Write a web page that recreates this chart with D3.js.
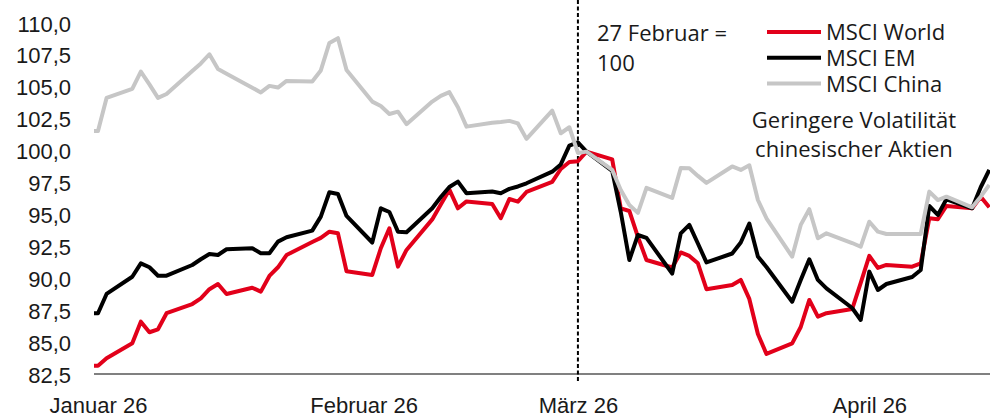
<!DOCTYPE html>
<html>
<head>
<meta charset="utf-8">
<script src="https://cdn.jsdelivr.net/npm/d3@7/dist/d3.min.js"></script>
<style>
    html, body { margin: 0; padding: 0; background: #fff; }
    svg { display: block; font-family: "Open Sans", sans-serif; }
    .axis text { font-size: 22px; fill: #1a1a1a; }
    .label { font-size: 22px; fill: #1a1a1a; }
</style>
</head>
<body>
<div id="chart"></div>
<script>

// DATA

// Trading days (first two points are the flat start before the first session)
var dates = [
    '2025-12-31', '2026-01-01',
    '2026-01-02', '2026-01-05', '2026-01-06', '2026-01-07', '2026-01-08', '2026-01-09',
    '2026-01-12', '2026-01-13', '2026-01-14', '2026-01-15', '2026-01-16',
    '2026-01-19', '2026-01-20', '2026-01-21', '2026-01-22', '2026-01-23',
    '2026-01-26', '2026-01-27', '2026-01-28', '2026-01-29', '2026-01-30',
    '2026-02-02', '2026-02-03', '2026-02-04', '2026-02-05', '2026-02-06',
    '2026-02-09', '2026-02-10', '2026-02-11', '2026-02-12', '2026-02-13',
    '2026-02-16', '2026-02-17', '2026-02-18', '2026-02-19', '2026-02-20',
    '2026-02-23', '2026-02-24', '2026-02-25', '2026-02-26', '2026-02-27',
    '2026-03-02', '2026-03-03', '2026-03-04', '2026-03-05', '2026-03-06',
    '2026-03-09', '2026-03-10', '2026-03-11', '2026-03-12', '2026-03-13',
    '2026-03-16', '2026-03-17', '2026-03-18', '2026-03-19', '2026-03-20',
    '2026-03-23', '2026-03-24', '2026-03-25', '2026-03-26', '2026-03-27',
    '2026-03-30', '2026-03-31', '2026-04-01', '2026-04-02', '2026-04-03',
    '2026-04-06', '2026-04-07', '2026-04-08', '2026-04-09', '2026-04-10',
    '2026-04-13', '2026-04-14', '2026-04-15'
];

var msciWorld = [
    83.23, 83.23,
    83.81, 84.98, 86.68, 85.85, 86.08, 87.34, 88.06, 88.51, 89.22, 89.63, 88.85,
    89.34, 89.03, 90.26, 90.94, 91.90, 92.92, 93.24, 93.73, 93.60, 90.63,
    90.34, 92.43, 94.00, 90.99, 92.30, 94.69, 95.86, 97.02, 95.56, 96.10,
    95.90, 94.78, 96.29, 96.08, 96.84, 97.63, 98.64, 99.19, 99.25, 100.00,
    99.40, 95.56, 95.35, 93.32, 91.51, 90.92, 92.10, 91.83, 91.25, 89.22,
    89.55, 89.95, 88.46, 85.71, 84.15, 84.98, 86.26, 88.38, 87.07, 87.34,
    87.67, 89.71, 91.83, 90.89, 91.12, 90.99, 91.25, 94.78, 94.70, 95.74,
    95.56, 96.47, 95.64
];

var msciEM = [
    87.34, 87.34,
    88.85, 90.20, 91.25, 90.94, 90.28, 90.28, 91.12, 91.57, 91.98, 91.90, 92.35,
    92.43, 92.04, 92.04, 92.95, 93.29, 93.81, 94.91, 96.82, 96.68, 94.96,
    92.88, 95.56, 95.27, 93.73, 93.68, 95.56, 96.45, 97.23, 97.65, 96.74,
    96.87, 96.74, 97.08, 97.27, 97.52, 98.43, 99.00, 100.47, 100.72, 100.00,
    98.49, 95.27, 91.51, 93.47, 93.24, 90.45, 93.60, 94.26, 92.80, 91.32,
    92.02, 92.88, 94.37, 91.79, 90.96, 88.24, 89.95, 91.57, 89.95, 89.29,
    87.75, 86.81, 90.60, 89.16, 89.63, 90.18, 90.73, 95.74, 95.04, 96.27,
    95.56, 97.21, 98.57
];

var msciChina = [
    101.62, 101.62,
    104.21, 104.91, 106.27, 105.27, 104.21, 104.52, 106.32, 106.91, 107.63, 106.48, 106.11,
    105.01, 104.64, 105.15, 105.02, 105.54, 105.50, 106.36, 108.52, 108.89, 106.40,
    103.92, 103.58, 102.95, 103.13, 102.15, 103.92, 104.37, 104.66, 103.48, 101.96,
    102.27, 102.33, 102.41, 102.21, 101.00, 103.21, 101.44, 101.91, 99.90, 100.00,
    98.57, 97.00, 95.82, 95.20, 97.16, 96.37, 98.72, 98.70, 98.10, 97.55,
    98.84, 98.57, 98.93, 96.21, 94.78, 91.77, 94.26, 95.49, 93.21, 93.60,
    92.84, 92.55, 94.51, 93.73, 93.55, 93.55, 93.55, 96.87, 96.21, 96.47,
    95.64, 96.47, 97.39
];

var seriesNames  = ['MSCI World', 'MSCI EM', 'MSCI China'];
var seriesColors = ['#e2001a', '#000000', '#c6c6c6'];

var yTicks      = [82.5, 85, 87.5, 90, 92.5, 95, 97.5, 100, 102.5, 105, 107.5, 110];
var xTickDates  = ['2026-01-01', '2026-02-01', '2026-02-26', '2026-04-01'];
var xTickLabels = ['Januar 26', 'Februar 26', 'März 26', 'April 26'];

var baseDate    = '2026-02-26';
var baseNote    = ['27 Februar =', '100'];
var chinaNote   = ['Geringere Volatilität', 'chinesischer Aktien'];


// LAYOUT

var width  = 990;
var height = 418;

var plot = {
    left: 94,
    right: 990,
    top: 24,
    bottom: 375
};

// Jan 1 sits at x = 98, one calendar day is ~8.57px
var dayWidth = 8.57;
var janX     = 98;


// HELPERS

var parseDate = d3.utcParse( '%Y-%m-%d' );
var locale    = d3.formatLocale( { decimal: ',', thousands: '.', grouping: [3], currency: ['', ' €'] } );
var fmtY      = locale.format( '.1f' );


// MAIN

var svg = d3.select( '#chart' ).append( 'svg' )
                                .attr( 'width', width )
                                .attr( 'height', height );

var xScale = d3.scaleUtc()
                .domain( [parseDate( '2026-01-01' ), parseDate( '2026-04-01' )] )
                .range( [janX, janX + 90 * dayWidth] );

var yScale = d3.scaleLinear()
                .domain( [82.5, 110] )
                .range( [plot.bottom, plot.top] );

svg.append( 'defs' ).append( 'clipPath' )
    .attr( 'id', 'plot-clip' )
    .append( 'rect' )
        .attr( 'x', plot.left )
        .attr( 'y', 0 )
        .attr( 'width', plot.right - plot.left + 4 )
        .attr( 'height', height );

// Baseline
svg.append( 'line' )
    .attr( 'x1', plot.left )
    .attr( 'x2', plot.right )
    .attr( 'y1', plot.bottom - 1 )
    .attr( 'y2', plot.bottom - 1 )
    .attr( 'stroke', '#808080' )
    .attr( 'stroke-width', 2 );

// Axes
var yAxis = d3.axisLeft( yScale )
                .tickValues( yTicks )
                .tickFormat( fmtY )
                .tickSize( 0 )
                .tickPadding( 3 );

svg.append( 'g' )
    .attr( 'class', 'axis axis-y' )
    .attr( 'transform', 'translate(74,0)' )
    .call( yAxis )
    .call( function( g ) { g.select( '.domain' ).remove(); } );

var xAxis = d3.axisBottom( xScale )
                .tickValues( xTickDates.map( parseDate ) )
                .tickFormat( function( d, i ) { return xTickLabels[i]; } )
                .tickSize( 0 )
                .tickPadding( 23 );

svg.append( 'g' )
    .attr( 'class', 'axis axis-x' )
    .attr( 'transform', 'translate(0,' + ( plot.bottom - 1 ) + ')' )
    .call( xAxis )
    .call( function( g ) { g.select( '.domain' ).remove(); } );

// Base date marker
var baseX = xScale( parseDate( baseDate ) );
svg.append( 'line' )
    .attr( 'x1', baseX )
    .attr( 'x2', baseX )
    .attr( 'y1', 0 )
    .attr( 'y2', plot.bottom + 8 )
    .attr( 'stroke', '#000' )
    .attr( 'stroke-width', 2 )
    .attr( 'stroke-dasharray', '4,2.5' );

// Lines
var allSeries = [msciWorld, msciEM, msciChina];

var line = d3.line()
                .x( function( d, i ) { return xScale( parseDate( dates[i] ) ); } )
                .y( function( d ) { return yScale( d ); } );

var lineG = svg.append( 'g' ).attr( 'clip-path', 'url(#plot-clip)' );

allSeries.forEach( function( values, k ) {
    lineG.append( 'path' )
        .datum( values )
        .attr( 'fill', 'none' )
        .attr( 'stroke', seriesColors[k] )
        .attr( 'stroke-width', 4 )
        .attr( 'stroke-linejoin', 'round' )
        .attr( 'd', line );
} );

// Legend
var legend = svg.append( 'g' ).attr( 'transform', 'translate(767,32)' );

seriesNames.forEach( function( name, k ) {
    var row = legend.append( 'g' ).attr( 'transform', 'translate(0,' + ( k * 25.7 ) + ')' );
    row.append( 'line' )
        .attr( 'x1', 0 )
        .attr( 'x2', 54 )
        .attr( 'stroke', seriesColors[k] )
        .attr( 'stroke-width', 4 );
    row.append( 'text' )
        .attr( 'class', 'label' )
        .attr( 'x', 59 )
        .attr( 'dy', '0.37em' )
        .text( name );
} );

// Notes
svg.append( 'text' )
    .attr( 'class', 'label' )
    .attr( 'x', 597 )
    .attr( 'y', 41 )
    .selectAll( 'tspan' )
    .data( baseNote )
    .enter().append( 'tspan' )
        .attr( 'x', 597 )
        .attr( 'dy', function( d, i ) { return i ? 30 : 0; } )
        .text( function( d ) { return d; } );

svg.append( 'text' )
    .attr( 'class', 'label' )
    .attr( 'text-anchor', 'middle' )
    .attr( 'y', 128 )
    .selectAll( 'tspan' )
    .data( chinaNote )
    .enter().append( 'tspan' )
        .attr( 'x', 854 )
        .attr( 'dy', function( d, i ) { return i ? 29 : 0; } )
        .text( function( d ) { return d; } );

</script>
</body>
</html>
